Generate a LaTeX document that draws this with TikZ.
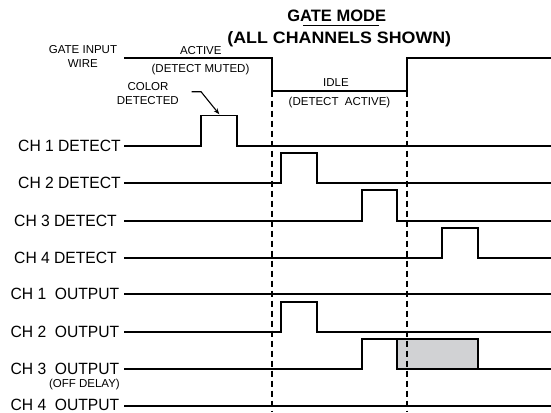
\documentclass[tikz,border=0pt]{standalone}
\usepackage{fontspec}
\setmainfont{Liberation Sans}
\newfontfamily\titlewide[FakeStretch=1.08]{Liberation Sans Bold}
\newfontfamily\chfont[FakeStretch=0.96]{Liberation Sans}
\usetikzlibrary{arrows.meta}
\begin{document}
\begin{tikzpicture}[x=1pt,y=-1pt,
  sig/.style={line width=1.7pt, line join=miter, line cap=butt},
  gridline/.style={line width=1.8pt, dash pattern=on 6pt off 4pt},
  chlbl/.style={anchor=east, inner sep=0pt, font=\fontsize{16.3}{18}\chfont},
  small/.style={anchor=base, inner sep=0pt, font=\fontsize{11.5}{13}\selectfont},
  ttl/.style={anchor=base, inner sep=0pt}]
\useasboundingbox (0,0) rectangle (551,412);

% titles
\node[ttl, font=\fontsize{16.5}{18}\bfseries\selectfont] (title1) at (336.7,21.3) {GATE MODE};
\node[ttl, font=\fontsize{16.5}{18}\titlewide] (title2) at (339.3,43.3) {(ALL CHANNELS SHOWN)};
\draw[line width=1.5pt] (303,25.3) -- (379,25.3);

% small labels
\node[small] (gate1) at (83,54) {GATE INPUT};
\node[small] (gate2) at (82.8,67) {WIRE};
\node[small] (active) at (200.8,55) {ACTIVE};
\node[small] (muted) at (200.5,72.5) {(DETECT MUTED)};
\node[small] (color1) at (148,90) {COLOR};
\node[small] (color2) at (147.8,104) {DETECTED};
\node[small] (idle) at (336,86) {IDLE};
\node[small] (detact) at (339.5,105.5) {(DETECT\ \ ACTIVE)};

% channel labels
\node[chlbl] (d1) at (121,145.7) {CH 1 DETECT};
\node[chlbl] (d2) at (121,183.3) {CH 2 DETECT};
\node[chlbl] (d3) at (117,220.7) {CH 3 DETECT};
\node[chlbl] (d4) at (117,258) {CH 4 DETECT};
\node[chlbl] (o1) at (119.5,294.3) {CH 1\ \ OUTPUT};
\node[chlbl] (o2) at (119.5,331.7) {CH 2\ \ OUTPUT};
\node[chlbl] (o3) at (119.5,369) {CH 3\ \ OUTPUT};
\node[chlbl] (o4) at (119.5,405.2) {CH 4\ \ OUTPUT};
\node[small, anchor=base east] (offd) at (120,387.5) {(OFF DELAY)};

% gray off-delay box
\draw[sig, fill={rgb,255:red,209;green,210;blue,212}] (397,339.3) rectangle (478,369);

% dashed markers
\draw[gridline] (272.3,90.7) -- (272.3,412);
\draw[gridline] (406.7,90.7) -- (406.7,412);

% gate wire
\draw[sig] (124,58.3) -- (272.3,58.3) -- (272.3,90.7) -- (406.7,90.7) -- (406.7,58.3) -- (551,58.3);

% detect signals
\draw[sig] (124,145.7) -- (201,145.7) -- (201,115.5) -- (237,115.5) -- (237,145.7) -- (551,145.7);
\draw[sig] (124,183.3) -- (281.3,183.3) -- (281.3,152.7) -- (317.3,152.7) -- (317.3,183.3) -- (551,183.3);
\draw[sig] (124,220.7) -- (361.7,220.7) -- (361.7,190.3) -- (397,190.3) -- (397,220.7) -- (551,220.7);
\draw[sig] (124,258) -- (441.7,258) -- (441.7,228) -- (477.7,228) -- (477.7,258) -- (551,258);

% outputs
\draw[sig] (124,294.3) -- (551,294.3);
\draw[sig] (124,331.7) -- (281.3,331.7) -- (281.3,301.7) -- (317.3,301.7) -- (317.3,331.7) -- (551,331.7);
\draw[sig] (124,369) -- (361.7,369) -- (361.7,339.3) -- (397,339.3) -- (397,369) -- (551,369);
\draw[sig] (124,406.3) -- (551,406.3);

% color detected arrow
\coordinate (arrS) at (191.7,91.7);
\coordinate (arrK) at (201,91.7);
\coordinate (arrE) at (219.3,114.3);
\draw[line width=1.1pt, -{Stealth[length=6pt,width=4.5pt]}] (arrS) -- (arrK) -- (arrE);
\end{tikzpicture}
\end{document}
